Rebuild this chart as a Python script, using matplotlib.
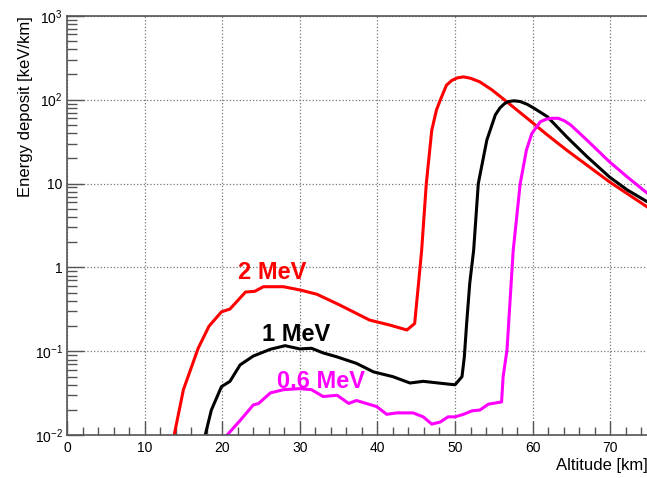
import matplotlib
matplotlib.use('Agg')
import matplotlib.pyplot as plt
from matplotlib.ticker import MultipleLocator, LogLocator, FixedLocator, FixedFormatter, NullFormatter

plt.rcParams['font.family'] = ['Liberation Sans', 'DejaVu Sans']
plt.rcParams['mathtext.fontset'] = 'custom'
plt.rcParams['mathtext.rm'] = 'Liberation Sans'
plt.rcParams['mathtext.it'] = 'Liberation Sans'

# 2 MeV curve
alt_2mev = [13.8, 15.0, 16.9, 18.3, 19.9, 21.0, 23.0, 24.2, 25.3, 27.9, 30.0, 32.2, 35.2,
            39.0, 41.6, 43.8, 44.8, 45.3, 45.7, 46.3, 47.0, 47.6, 48.1, 48.9, 49.6, 50.3,
            51.1, 52.0, 53.2, 54.8, 56.7, 59.3, 61.9, 64.4, 67.0, 69.9, 75.0]
dep_2mev = [0.01, 0.035, 0.109, 0.2, 0.296, 0.32, 0.51, 0.52, 0.59, 0.59, 0.54, 0.48, 0.355,
            0.236, 0.206, 0.18, 0.215, 0.65, 1.6, 10, 43, 75, 99, 149, 170, 182,
            187, 180, 163, 130, 94, 60, 38, 25, 16.6, 10.5, 5.1]

# 1 MeV curve
alt_1mev = [17.8, 18.6, 19.9, 21.0, 22.3, 24.0, 26.2, 28.1, 30.0, 31.5, 33.0, 34.8, 37.3,
            39.5, 42.0, 44.2, 45.9, 48.9, 50.0, 50.9, 51.2, 51.5, 51.9, 52.4, 53.0, 54.1,
            55.2, 55.8, 56.4, 56.9, 57.6, 58.4, 59.3, 60.1, 61.9, 64.4, 67.0, 69.9, 72.2, 75.0]
dep_1mev = [0.01, 0.02, 0.038, 0.044, 0.069, 0.088, 0.106, 0.117, 0.107, 0.109, 0.096, 0.086, 0.072,
            0.057, 0.050, 0.042, 0.044, 0.041, 0.04, 0.05, 0.086, 0.216, 0.65, 1.6, 10, 33,
            66, 80, 90, 95, 97, 95, 88, 80, 62.7, 36, 21, 12, 8.4, 5.9]

# 0.6 MeV curve
alt_06mev = [20.6, 22.3, 24.0, 24.7, 26.2, 27.9, 30.0, 31.5, 33.0, 34.8, 36.3, 37.3, 39.9,
             41.2, 42.5, 44.6, 45.9, 47.0, 48.1, 49.1, 50.0, 51.1, 52.2, 53.2, 54.3, 56.0,
             56.2, 56.7, 57.1, 57.5, 58.4, 59.2, 59.9, 61.0, 61.8, 62.5, 63.3, 64.1, 64.9,
             67.0, 69.9, 72.2, 75.0]
dep_06mev = [0.01, 0.015, 0.023, 0.024, 0.032, 0.035, 0.036, 0.035, 0.029, 0.03, 0.024, 0.026, 0.022,
             0.0178, 0.0185, 0.0185, 0.0166, 0.0136, 0.0144, 0.0166, 0.0166, 0.0178, 0.0196, 0.02, 0.0235, 0.025,
             0.05, 0.104, 0.41, 1.6, 10, 25, 39.6, 54.6, 58.7, 60, 60, 56, 50,
             33, 18.2, 12, 7.4]

y_ticks = [0.01, 0.1, 1, 10, 100, 1000]
y_ticklabels = ['$10^{-2}$', '$10^{-1}$', '1', '10', '$10^{2}$', '$10^{3}$']

fig = plt.figure(figsize=(6.47, 4.78), dpi=100)
ax = fig.add_axes([0.1036, 0.0893, 0.8995, 0.8777])

ax.plot(alt_2mev, dep_2mev, color='#ff0000', lw=2.2)
ax.plot(alt_1mev, dep_1mev, color='black', lw=2.2)
ax.plot(alt_06mev, dep_06mev, color='#ff00ff', lw=2.2)

ax.text(22.0, 0.88, '2 MeV', color='#ff0000', fontsize=17, fontweight='bold', va='center')
ax.text(25.1, 0.161, '1 MeV', color='black', fontsize=17, fontweight='bold', va='center')
ax.text(27.0, 0.0435, '0.6 MeV', color='#ff00ff', fontsize=17, fontweight='bold', va='center')

ax.set_yscale('log')
ax.set_xlim(0, 75)
ax.set_ylim(0.01, 1000)

ax.xaxis.set_major_locator(MultipleLocator(10))
ax.xaxis.set_minor_locator(MultipleLocator(2))
ax.yaxis.set_major_locator(FixedLocator(y_ticks))
ax.yaxis.set_major_formatter(FixedFormatter(y_ticklabels))
ax.yaxis.set_minor_locator(LogLocator(base=10, subs=range(2, 10)))
ax.yaxis.set_minor_formatter(NullFormatter())

axcol = '#555555'
ax.tick_params(axis='x', which='major', direction='in', length=10, width=1, color=axcol, labelsize=10, pad=4)
ax.tick_params(axis='x', which='minor', direction='in', length=5.5, width=1, color=axcol)
ax.tick_params(axis='y', which='major', direction='in', length=12, width=1, color=axcol, labelsize=10, pad=3)
ax.tick_params(axis='y', which='minor', direction='in', length=7, width=1, color=axcol)
for s in ['left', 'bottom', 'top']:
    ax.spines[s].set_color(axcol)
    ax.spines[s].set_linewidth(1.2)
ax.spines['right'].set_visible(False)

ax.grid(True, which='major', ls=':', color='#777777', lw=0.9)

ax.set_xlabel('Altitude [km]', fontsize=12, loc='right')
ax.xaxis.set_label_coords(0.997, -0.054)
ax.set_ylabel('Energy deposit [keV/km]', fontsize=12, loc='top')
ax.yaxis.set_label_coords(-0.058, 1.0)

fig.savefig('out.png', dpi=100)
